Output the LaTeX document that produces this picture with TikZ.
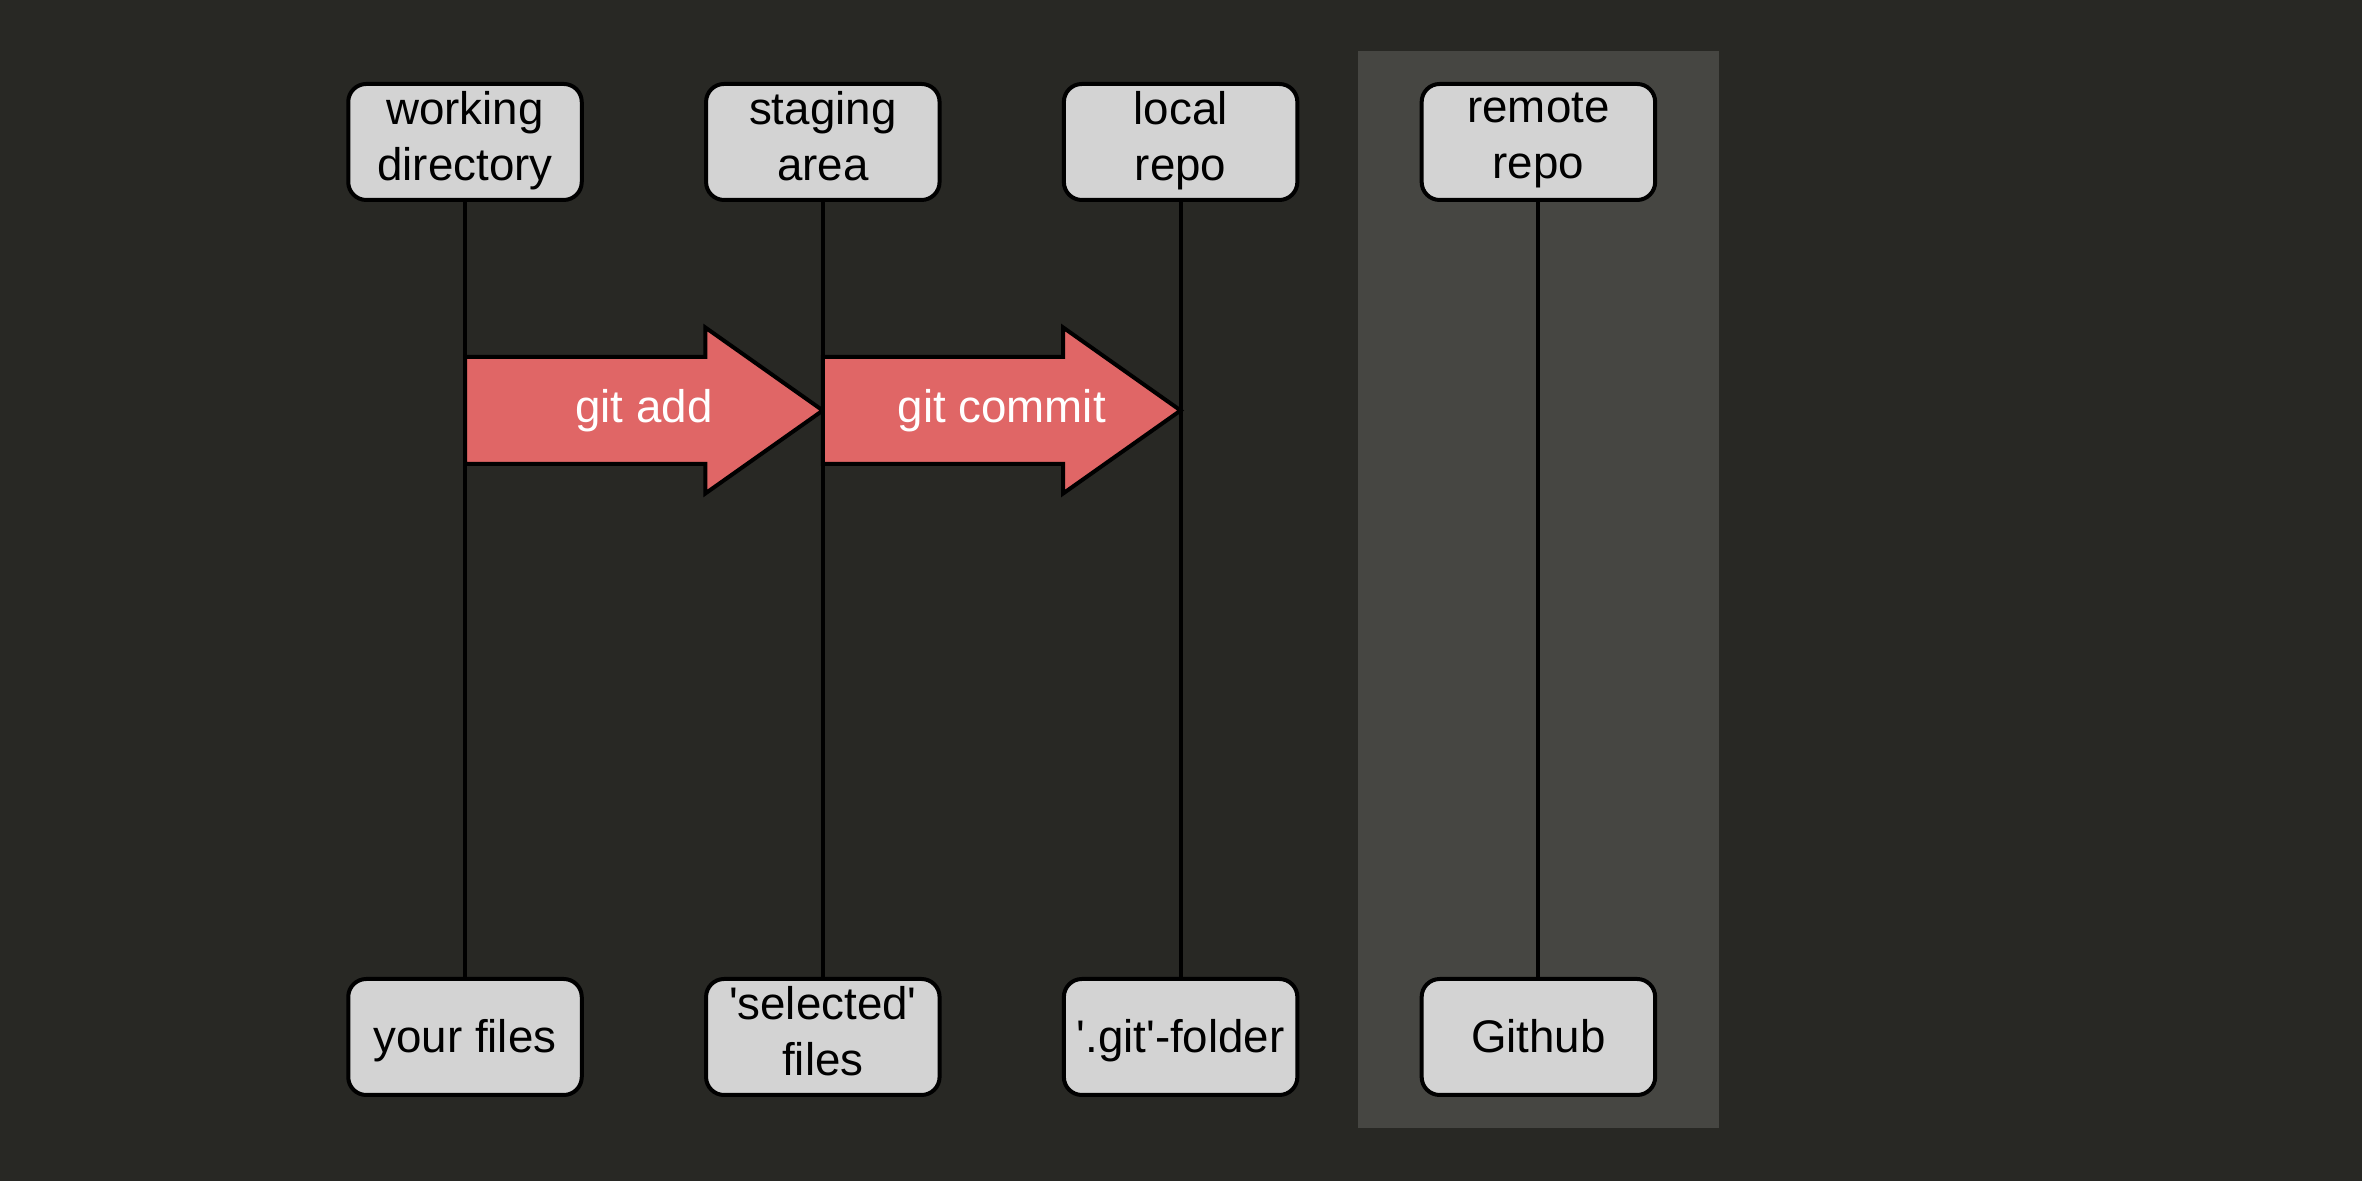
\documentclass[tikz,border=0pt]{standalone}
\usepackage{fontspec}
\setmainfont{Liberation Sans}
\usetikzlibrary{positioning,calc,fit,backgrounds}

\definecolor{bgdark}{HTML}{282824}
\definecolor{bgremote}{HTML}{464642}
\definecolor{boxgrey}{HTML}{D3D3D3}
\definecolor{gitred}{HTML}{E06666}

\begin{document}
\begin{tikzpicture}
[
    font=\fontsize{13}{16}\selectfont,
    area/.style={draw=black, line width=0.4mm, fill=boxgrey, rounded corners=1.8mm,
        minimum width=23.35mm, minimum height=11.6mm, inner sep=0pt, align=center,
        execute at begin node=\rule{0pt}{12.5pt},
        execute at end node=\rule[-3.5pt]{0pt}{0pt}},
    lane/.style={black, line width=0.4mm},
    gitarrow/.style={draw=black, line width=0.4mm, fill=gitred, line join=miter},
    gitlabel/.style={text=white},
]
\useasboundingbox (0,0) rectangle (236.2mm,118.1mm);

% top row
\node [area] (wd) at (46.5mm,103.9mm) {working\\directory};
\node [area, right=12.03mm of wd] (sa) {staging\\area};
\node [area, right=12.03mm of sa] (lr) {local\\repo};
\node [area, right=12.03mm of lr] (rr) {remote\\repo};

% bottom row
\node [area, below=77.5mm of wd] (wdf) {your files};
\node [area, below=77.5mm of sa] (saf) {\textquotesingle selected\textquotesingle\\files};
\node [area, below=77.5mm of lr] (lrf) {\textquotesingle.git\textquotesingle-folder};
\node [area, below=77.5mm of rr] (rrf) {Github};

\begin{scope}[on background layer]
\fill [bgdark] (0,0) rectangle (236.2mm,118.1mm);
\node [fit=(rr)(rrf), fill=bgremote, inner xsep=6.2mm, inner ysep=3.1mm] (remote) {};
\end{scope}

% lanes
\draw [lane] (wd) -- (wdf);
\draw [lane] (sa) -- (saf);
\draw [lane] (lr) -- (lrf);
\draw [lane] (rr) -- (rrf);

% arrows
\coordinate (mid) at (0,77.05mm);
\draw [gitarrow] (wd |- mid) ++(0,5.35mm) -- ++(24.03mm,0) -- ++(0,2.95mm)
    -- (sa |- mid) -- ++(-11.75mm,-8.3mm) -- ++(0,2.95mm)
    -- ($(wd |- mid)+(0,-5.35mm)$) -- cycle;
\node [gitlabel] (add) at ($(wd |- mid)!0.5!(sa |- mid)$) {git add};

\draw [gitarrow] (sa |- mid) ++(0,5.35mm) -- ++(24.03mm,0) -- ++(0,2.95mm)
    -- (lr |- mid) -- ++(-11.75mm,-8.3mm) -- ++(0,2.95mm)
    -- ($(sa |- mid)+(0,-5.35mm)$) -- cycle;
\node [gitlabel] (commit) at ($(sa |- mid)!0.5!(lr |- mid)$) {git commit};
\end{tikzpicture}
\end{document}
